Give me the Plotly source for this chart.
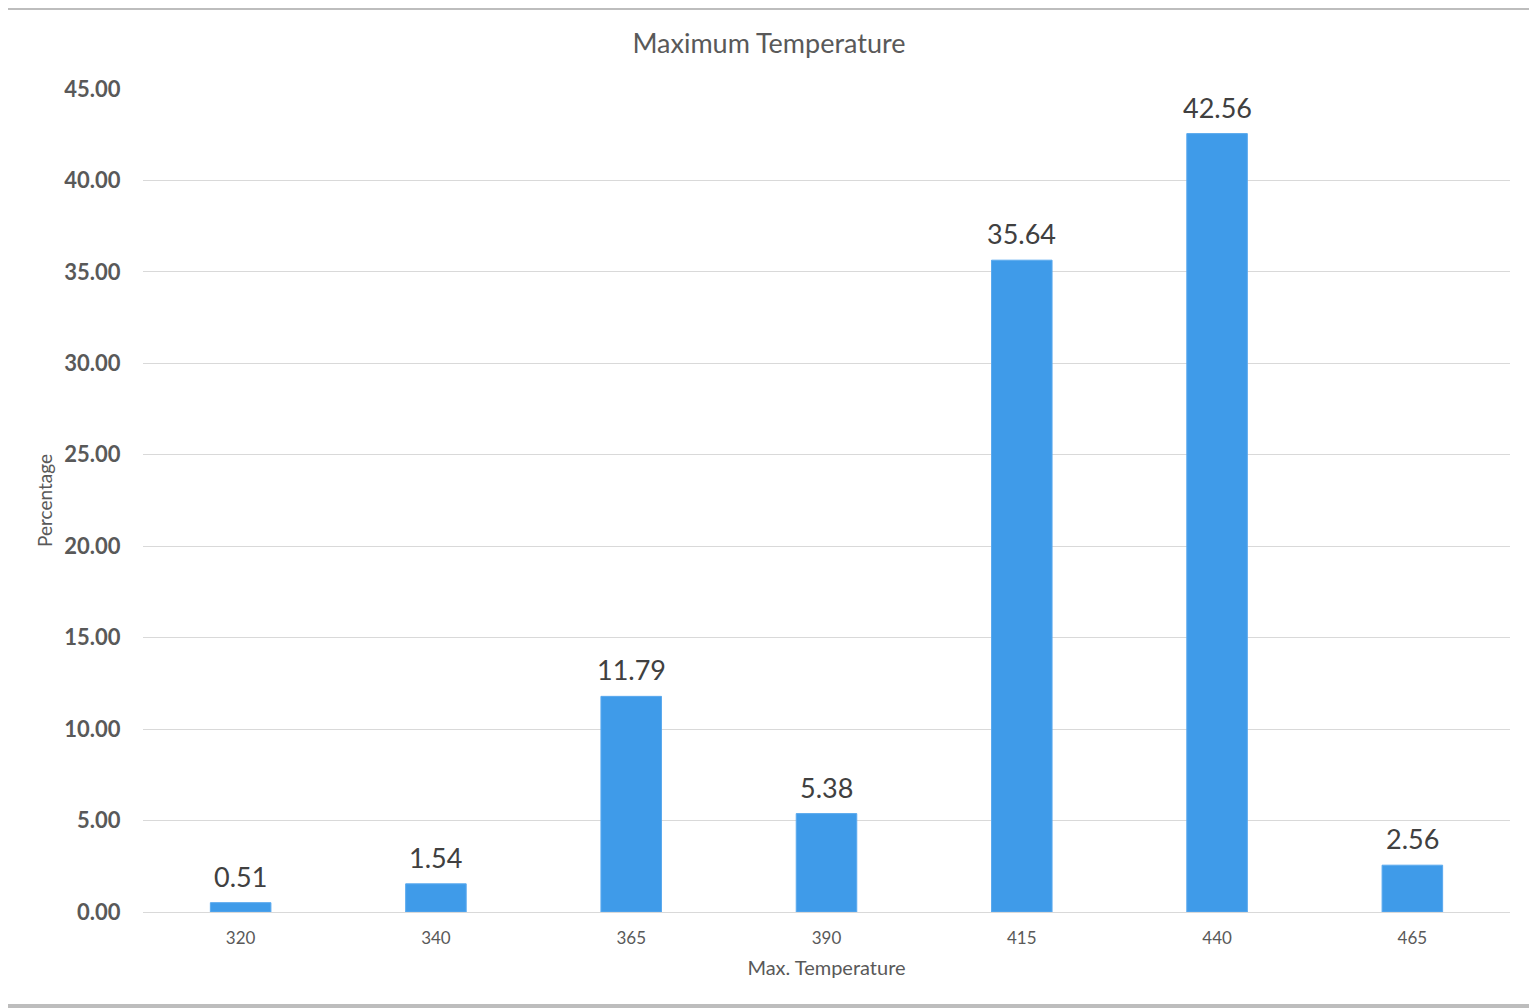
import plotly.graph_objects as go

categories = ["320", "340", "365", "390", "415", "440", "465"]
percentages = [0.51, 1.54, 11.79, 5.38, 35.64, 42.56, 2.56]
y_ticks = [0, 5, 10, 15, 20, 25, 30, 35, 40, 45]

# page body has an 8px margin; work in screen pixels and subtract it
OFF = 8
W, H = 1537 - OFF, 1008 - OFF
L, T = 143 - OFF, 89 - OFF
R = W - (1510 - OFF)
B = H - (912 - OFF)
pw, ph = W - L - R, H - T - B

def px_x(p):
    return (p - OFF - L) / pw

def px_y(p):
    return (H - B - (p - OFF)) / ph

FONT = "Lato, 'Open Sans', sans-serif"

fig = go.Figure(
    go.Bar(
        x=categories,
        y=percentages,
        marker=dict(color="#3f9be9", line=dict(color="#5aa9ee", width=1)),
        width=0.31,
    )
)

annotations = [
    dict(
        x=i,
        y=v,
        xref="x",
        yref="y",
        text=f"{v:.2f}",
        showarrow=False,
        yanchor="bottom",
        yshift=8,
        font=dict(family=FONT, size=27, color="#404040"),
    )
    for i, v in enumerate(percentages)
]

fig.update_layout(
    width=W,
    height=H,
    margin=dict(l=L, r=R, t=T, b=B, autoexpand=False),
    paper_bgcolor="#bdbdbd",
    plot_bgcolor="white",
    showlegend=False,
    annotations=annotations,
    title=dict(
        text="Maximum Temperature",
        x=(769 - OFF) / W,
        xref="container",
        xanchor="center",
        y=1 - (44 - OFF) / H,
        yref="container",
        yanchor="middle",
        font=dict(family=FONT, size=27, color="#595959"),
    ),
    font=dict(family=FONT, color="#595959"),
    shapes=[
        dict(
            type="rect",
            xref="paper",
            yref="paper",
            x0=px_x(0),
            x1=px_x(1532),
            y0=px_y(1004),
            y1=px_y(10),
            fillcolor="white",
            line=dict(width=0),
            layer="below",
        ),
    ],
)

fig.update_xaxes(
    type="category",
    range=[-0.5, len(categories) - 0.5],
    showgrid=False,
    showline=True,
    linecolor="#d9d9d9",
    linewidth=1,
    ticks="outside",
    ticklen=11,
    tickcolor="rgba(0,0,0,0)",
    tickfont=dict(size=17, color="#595959"),
    title=dict(text="Max. Temperature", font=dict(size=20, color="#595959"), standoff=13),
    zeroline=False,
)

fig.update_yaxes(
    range=[0, 45],
    tickvals=y_ticks,
    tickformat=".2f",
    showgrid=True,
    gridcolor="#d9d9d9",
    gridwidth=1,
    zeroline=False,
    ticks="outside",
    ticklen=17,
    tickcolor="rgba(0,0,0,0)",
    tickfont=dict(size=22, color="#595959", family=FONT, weight="bold"),
    title=dict(text="Percentage", font=dict(size=19, color="#595959"), standoff=6),
)

fig.write_html("out.html")
